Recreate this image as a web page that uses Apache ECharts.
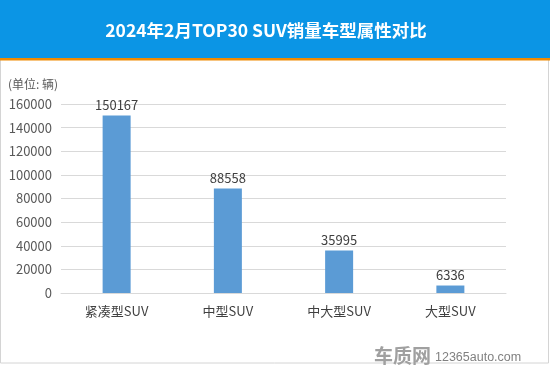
<!DOCTYPE html>
<html><head><meta charset="utf-8">
<script src="https://cdn.jsdelivr.net/npm/echarts@6/dist/echarts.min.js"></script>
<style>html,body{margin:0;padding:0;background:#fff}#c{width:550px;height:365px}</style>
</head><body><div id="c"></div>
<script>
var categories = ['紧凑型SUV', '中型SUV', '中大型SUV', '大型SUV'];
var sales = [150167, 88558, 35995, 6336];
var yTicks = [0, 20000, 40000, 60000, 80000, 100000, 120000, 140000, 160000];
var titleText = '2024年2月TOP30 SUV销量车型属性对比';
var unitText = '(单位: 辆)';

var chart = echarts.init(document.getElementById('c'), null, {renderer: 'canvas'});
chart.setOption({
  animation: false,
  backgroundColor: '#fff',
  graphic: [
    {type: 'rect', shape: {x: 0.5, y: 58, width: 548, height: 305}, style: {fill: '#fff', stroke: '#d4d4d4', lineWidth: 1}, z: -10},
    {type: 'rect', shape: {x: 0, y: 0, width: 550, height: 58}, style: {fill: '#0b95e5'}, z: -5},
    {type: 'rect', shape: {x: 0, y: 58, width: 550, height: 2.5}, style: {fill: '#f08a00'}, z: -5},
    {type: 'text', x: 266, y: 30, style: {text: titleText, fill: '#fff', font: 'bold 17.5px "Noto Sans CJK SC", sans-serif', textAlign: 'center', textVerticalAlign: 'middle'}},
    {type: 'text', x: 8, y: 84, style: {text: unitText, fill: '#595959', font: '12px "Noto Sans CJK SC", sans-serif', textAlign: 'left', textVerticalAlign: 'middle'}},
    {type: 'text', x: 374, y: 356, style: {text: '车质网', fill: '#a0a0a0', font: 'bold 19px "Noto Sans CJK SC", sans-serif', textAlign: 'left', textVerticalAlign: 'middle'}},
    {type: 'text', x: 435, y: 358, style: {text: '12365auto.com', fill: '#808080', font: '12.5px "Liberation Sans", sans-serif', textAlign: 'left', textVerticalAlign: 'middle'}}
  ],
  grid: {left: 61, right: 44, top: 104, bottom: 72},
  xAxis: {
    type: 'category', data: categories,
    axisLine: {show: true, lineStyle: {color: '#d9d9d9'}},
    axisTick: {show: false},
    axisLabel: {color: '#404040', fontSize: 13, margin: 12, fontFamily: '"Noto Sans CJK SC", sans-serif'}
  },
  yAxis: {
    type: 'value', min: yTicks[0], max: yTicks[yTicks.length - 1], interval: yTicks[1] - yTicks[0],
    axisLine: {show: false}, axisTick: {show: false},
    splitLine: {lineStyle: {color: '#d9d9d9'}},
    axisLabel: {color: '#595959', fontSize: 13, margin: 9, fontFamily: '"Noto Sans CJK SC", sans-serif', formatter: function (v) { return String(v); }}
  },
  series: [{
    type: 'bar', data: sales, barWidth: 28,
    itemStyle: {color: '#5b9bd5'},
    label: {show: true, position: 'top', color: '#404040', fontSize: 13, distance: 4, fontFamily: '"Noto Sans CJK SC", sans-serif'}
  }]
});
</script></body></html>
